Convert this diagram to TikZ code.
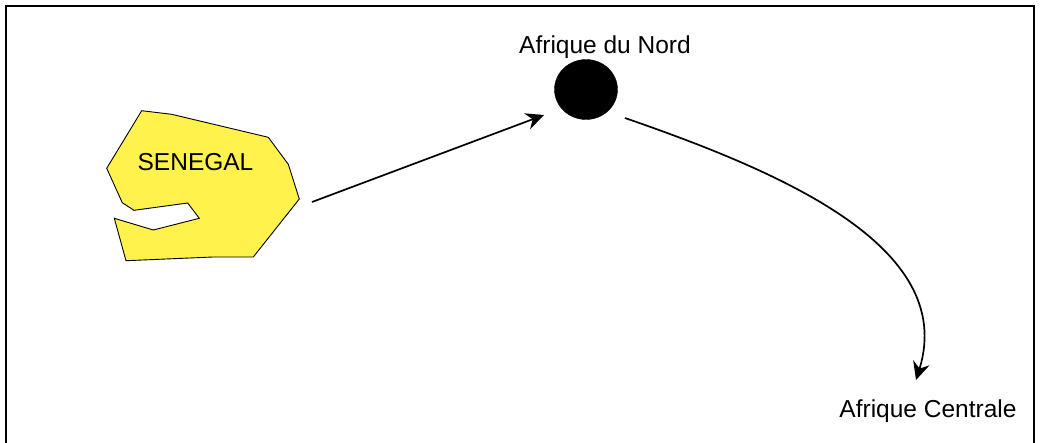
\documentclass[tikz,border=0pt]{standalone}
\usepackage{fontspec}
\setmainfont{Liberation Sans}
\usetikzlibrary{arrows.meta,shapes.geometric}
\definecolor{senyellow}{RGB}{255,242,77}
\tikzset{
  lbl/.style={inner sep=0pt,font=\fontsize{24.5}{28}\selectfont,text=black},
  link/.style={draw=black,line width=1.7pt,-{Stealth[length=18pt,width=17pt,inset=6pt]}}
}
\begin{document}
\begin{tikzpicture}[x=1pt,y=-1pt]
\useasboundingbox (0,0) rectangle (1041,442);
\draw[line width=2pt] (6,443) -- (6,5.5) -- (1034,5.5) -- (1034,443);
\draw[fill=senyellow,draw=black,line width=0.9pt]
 (141.7,110.7) -- (171.7,114.3) -- (268.3,137.3) -- (288.3,164.3) -- (299.3,199) -- (253.3,257) -- (213,257) -- (126,260.7) -- (114.3,218.3) -- (153.3,230) -- (199.3,218.3) -- (187.7,203) -- (134,210.3) -- (122.3,202.7) -- (106.7,168.3) -- cycle;
\node[lbl] (sen) at (195.5,162.5) {SENEGAL};
\node[lbl] (nord) at (605,47) {Afrique du Nord};
\node[lbl] (centre) at (928,411) {Afrique Centrale};
\node[draw=black,fill=black,ellipse,minimum width=63pt,minimum height=60pt,inner sep=0pt] (dot) at (586,89.5) {};
\coordinate (a) at (312,202);
\coordinate (b) at (544,115);
\coordinate (c) at (625,118);
\coordinate (d) at (916,380);
\draw[link] (a) -- (b);
\draw[link] (c) .. controls (775,170) and (958,245) .. (d);
\end{tikzpicture}
\end{document}
